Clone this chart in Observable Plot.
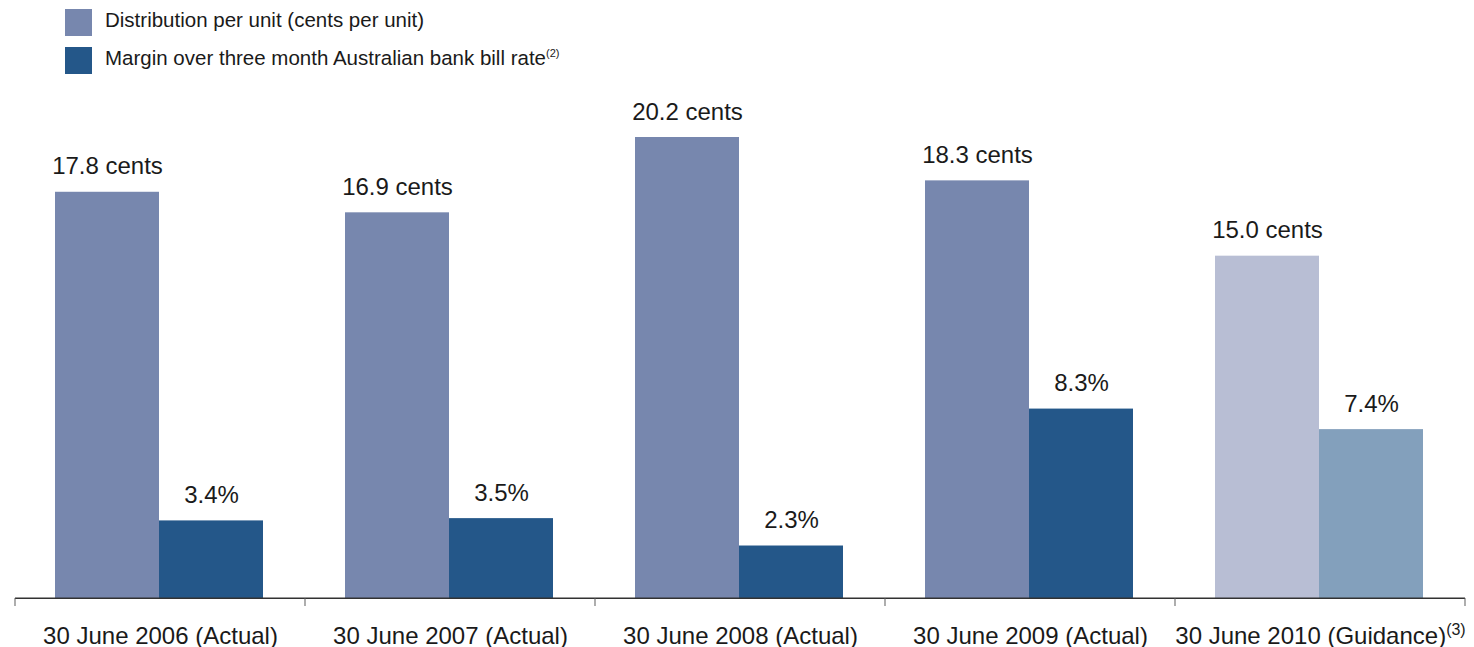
<!DOCTYPE html>
<html>
<head>
<meta charset="utf-8">
<script src="https://cdn.jsdelivr.net/npm/d3@7"></script>
<script src="https://cdn.jsdelivr.net/npm/@observablehq/plot@0.6"></script>
<style>
  html, body { margin: 0; padding: 0; background: #fff; }
  body { width: 1474px; height: 647px; overflow: hidden; font-family: "Liberation Sans", Arial, sans-serif; }
  #legend { position: relative; height: 80px; }
  .sw { position: absolute; left: 65px; width: 27px; height: 27px; }
  .lt { position: absolute; left: 105px; font-size: 20.5px; color: #1a1a1a; line-height: 1; white-space: nowrap; }
  .lt sup { font-size: 11px; vertical-align: 8px; line-height: 0; }
  svg { display: block; }
</style>
</head>
<body>
<div id="legend"></div>
<div id="chart"></div>
<script>
// ---- data ----
const categories = [
  "30 June 2006 (Actual)",
  "30 June 2007 (Actual)",
  "30 June 2008 (Actual)",
  "30 June 2009 (Actual)",
  "30 June 2010 (Guidance)"
];
const status = ["actual", "actual", "actual", "actual", "guidance"];
const distribution = [17.8, 16.9, 20.2, 18.3, 15.0];   // cents per unit
const margin = [3.4, 3.5, 2.3, 8.3, 7.4];               // %
const seriesNames = ["Distribution per unit (cents per unit)", "Margin over three month Australian bank bill rate"];
const seriesNotes = ["", "(2)"];
const categoryNotes = ["", "", "", "", "(3)"];

// ---- styles ----
const colorKeys = ["dist-actual", "margin-actual", "dist-guidance", "margin-guidance"];
const colorRange = ["#7787ae", "#245789", "#b8bed4", "#83a0bc"];

// ---- legend ----
const legend = d3.select("#legend");
const legendTop = [9, 47];
const legendBase = [29, 67];
seriesNames.forEach((name, i) => {
  legend.append("div").attr("class", "sw")
    .style("top", legendTop[i] + "px")
    .style("background", colorRange[i]);
  const t = legend.append("div").attr("class", "lt")
    .style("top", (legendBase[i] - 19) + "px");
  t.append("span").text(name);
  if (seriesNotes[i]) t.append("sup").text(seriesNotes[i]);
});

// ---- table ----
const rows = [];
categories.forEach((c, i) => {
  rows.push({cat: c, series: "dist", value: distribution[i], key: "dist-" + status[i], label: distribution[i].toFixed(1) + " cents"});
  rows.push({cat: c, series: "margin", value: margin[i], key: "margin-" + status[i], label: margin[i].toFixed(1) + "%"});
});

const W = 1474, H = 567;
const plot = Plot.plot({
  width: W,
  height: H,
  marginLeft: 14,
  marginRight: 8,
  marginTop: 57,
  marginBottom: 49,
  style: {fontFamily: "Liberation Sans, Arial, sans-serif", fontSize: "24px", color: "#1a1a1a", background: "#fff"},
  fx: {domain: categories, padding: 0, label: null},
  x: {domain: ["dist", "margin"], paddingInner: 0, paddingOuter: 0.39, align: 0.49, axis: null},
  y: {domain: [0, 20.2], axis: null},
  color: {domain: colorKeys, range: colorRange},
  marks: [
    Plot.barY(rows, {fx: "cat", x: "series", y: "value", fill: "key", inset: 0}),
    Plot.text(rows, {fx: "cat", x: "series", y: "value", text: "label", dy: -18, lineAnchor: "bottom", fontSize: 24, fill: "#1a1a1a"}),
    Plot.ruleY([0], {stroke: "#333", strokeWidth: 1.2}),
    Plot.axisFx({anchor: "bottom", tickSize: 0, tickPadding: 45, fontSize: 24, label: null, lineAnchor: "bottom", fill: "#1a1a1a"})
  ]
});
document.getElementById("chart").appendChild(plot);

// boundary ticks on the category axis, from Plot's fx scale
const fx = plot.scale("fx");
const svg = d3.select(plot);
const y0 = H - 49;
const bounds = categories.map(c => fx.apply(c)).concat([fx.apply(categories[categories.length - 1]) + fx.bandwidth]);
svg.append("g").selectAll("line").data(bounds).join("line")
  .attr("x1", d => d).attr("x2", d => d)
  .attr("y1", y0).attr("y2", y0 + 8)
  .attr("stroke", "#777").attr("stroke-width", 1.2);
svg.append("line").attr("x1", bounds[0]).attr("x2", bounds[bounds.length - 1])
  .attr("y1", y0).attr("y2", y0).attr("stroke", "#333").attr("stroke-width", 1.2);

// superscript notes on category labels
svg.selectAll("text").each(function() {
  const el = d3.select(this);
  const txt = el.text();
  const i = categories.indexOf(txt);
  if (i >= 0 && categoryNotes[i]) {
    const tspans = el.selectAll("tspan");
    const target = tspans.empty() ? el : d3.select(tspans.nodes()[tspans.size() - 1]);
    target.append("tspan").attr("font-size", 16).attr("dy", -9).text(categoryNotes[i]);
  }
});
</script>
</body>
</html>
